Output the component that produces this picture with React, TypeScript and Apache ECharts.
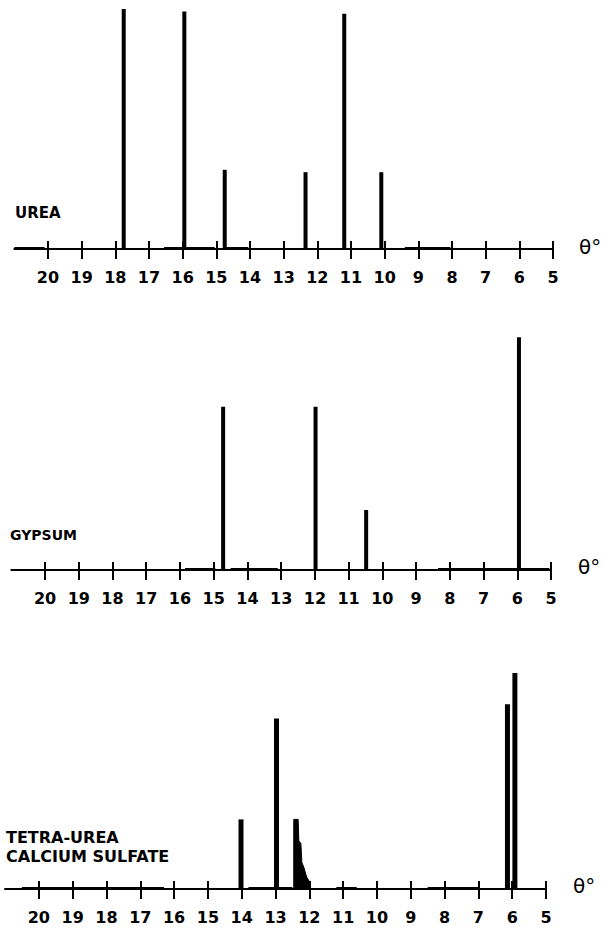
import React, { useEffect, useRef } from "react";
import * as echarts from "echarts";

// ---- data (2θ positions in degrees, relative intensity 0..100) ----
const xTicks = [20, 19, 18, 17, 16, 15, 14, 13, 12, 11, 10, 9, 8, 7, 6, 5];
const panelNames = ["UREA", "GYPSUM", "TETRA-UREA\nCALCIUM SULFATE"];
const axisTitle = "θ°";

const ureaPeaks = [
  [17.75, 100],
  [15.95, 99],
  [14.75, 33],
  [12.35, 32],
  [11.2, 98],
  [10.1, 32],
];
const gypsumPeaks = [
  [14.72, 68],
  [11.98, 68],
  [10.48, 25],
  [5.95, 97],
];
const tetraPeaks = [
  [14.02, 29],
  [12.97, 71],
  [6.14, 77],
  [5.92, 90],
];
const tetraBroadProfile = [
  [12.46, 0],
  [12.46, 29],
  [12.33, 29],
  [12.31, 20],
  [12.25, 19],
  [12.22, 11],
  [12.16, 9],
  [12.08, 5],
  [11.99, 3],
  [11.98, 0],
];
// thickened stretches of the baseline (background noise)
const ureaNoise = [
  [21, 20.1],
  [16.55, 15.05],
  [14.7, 14.05],
  [9.4, 8.05],
];
const gypsumNoise = [
  [15.85, 14.95],
  [14.5, 13.1],
  [8.35, 5.05],
];
const tetraNoise = [
  [20.5, 16.3],
  [13.8, 12.5],
  [11.2, 10.6],
  [8.5, 7.0],
];

const LABEL_FONT = "'DejaVu Sans', sans-serif";
const TITLE_FONT = "'DejaVu Sans', sans-serif";

const grids = [
  { left: 14.3, right: 49, top: 9, bottom: 684 },
  { left: 11.3, right: 51, top: 330, bottom: 363 },
  { left: 5, right: 56, top: 649, bottom: 44 },
];

export default function App() {
  const ref = useRef<HTMLDivElement>(null);

  useEffect(() => {
    if (!ref.current) return;
    const chart = echarts.init(ref.current, undefined, { renderer: "svg" });

    const xAxes: any[] = [];
    const yAxes: any[] = [];
    grids.forEach((_, i) => {
      // main axis: line, outside ticks, labels
      xAxes.push({
        type: "value",
        gridIndex: i,
        min: 5,
        max: 21,
        interval: 1,
        inverse: true,
        position: "bottom",
        splitLine: { show: false },
        axisLine: { show: true, onZero: false, lineStyle: { color: "#000", width: 2 } },
        axisTick: {
          show: true,
          inside: false,
          length: 10,
          customValues: xTicks,
          lineStyle: { color: "#000", width: 2 },
        },
        axisLabel: {
          show: true,
          customValues: xTicks,
          margin: 20,
          color: "#000",
          fontFamily: LABEL_FONT,
          fontWeight: "bold",
          fontSize: 16,
        },
      });
      // helper axis: inside part of the crossing ticks
      xAxes.push({
        type: "value",
        gridIndex: i,
        min: 5,
        max: 21,
        interval: 1,
        inverse: true,
        position: "bottom",
        splitLine: { show: false },
        axisLine: { show: false },
        axisTick: {
          show: true,
          inside: true,
          length: 8,
          customValues: xTicks,
          lineStyle: { color: "#000", width: 2 },
        },
        axisLabel: { show: false },
      });
      yAxes.push({
        type: "value",
        gridIndex: i,
        min: 0,
        max: 100,
        show: false,
        splitLine: { show: false },
      });
    });

    const noiseMark = (segs: number[][]) => ({
      silent: true,
      symbol: "none",
      label: { show: false },
      lineStyle: { color: "#000", width: 3, type: "solid" },
      data: segs.map(([a, b]) => [{ coord: [a, 0.3] }, { coord: [b, 0.3] }]),
    });

    const barSeries = (i: number, peaks: number[][], noise: number[][], w: number) => ({
      type: "bar",
      xAxisIndex: i * 2,
      yAxisIndex: i,
      barWidth: w,
      itemStyle: { color: "#000" },
      data: peaks,
      markLine: noiseMark(noise),
    });

    const option: any = {
      animation: false,
      backgroundColor: "#fff",
      grid: grids.map((g) => ({ ...g, containLabel: false })),
      xAxis: xAxes,
      yAxis: yAxes,
      series: [
        barSeries(0, ureaPeaks, ureaNoise, 4),
        barSeries(1, gypsumPeaks, gypsumNoise, 4),
        barSeries(2, tetraPeaks, tetraNoise, 5),
        {
          type: "line",
          xAxisIndex: 4,
          yAxisIndex: 2,
          data: tetraBroadProfile,
          symbol: "none",
          lineStyle: { color: "#000", width: 1 },
          areaStyle: { color: "#000", opacity: 1 },
        },
      ],
      graphic: [
        {
          type: "text",
          x: 15,
          y: 213,
          style: { text: panelNames[0], font: `bold 15px ${TITLE_FONT}`, fill: "#000", verticalAlign: "middle" },
        },
        {
          type: "text",
          x: 10,
          y: 535,
          style: { text: panelNames[1], font: `bold 14px ${TITLE_FONT}`, fill: "#000", verticalAlign: "middle" },
        },
        {
          type: "text",
          x: 6,
          y: 828,
          style: {
            text: panelNames[2],
            font: `bold 16px ${TITLE_FONT}`,
            lineHeight: 19,
            fill: "#000",
            verticalAlign: "top",
          },
        },
        {
          type: "text",
          x: 579,
          y: 247,
          style: { text: axisTitle, font: `20px ${TITLE_FONT}`, fill: "#000", verticalAlign: "middle" },
        },
        {
          type: "text",
          x: 578,
          y: 567,
          style: { text: axisTitle, font: `20px ${TITLE_FONT}`, fill: "#000", verticalAlign: "middle" },
        },
        {
          type: "text",
          x: 573,
          y: 886,
          style: { text: axisTitle, font: `20px ${TITLE_FONT}`, fill: "#000", verticalAlign: "middle" },
        },
      ],
    };

    chart.setOption(option);
    return () => chart.dispose();
  }, []);

  return (
    <div
      ref={ref}
      style={{ position: "absolute", left: 0, top: 0, width: 602, height: 933, background: "#fff" }}
    />
  );
}
